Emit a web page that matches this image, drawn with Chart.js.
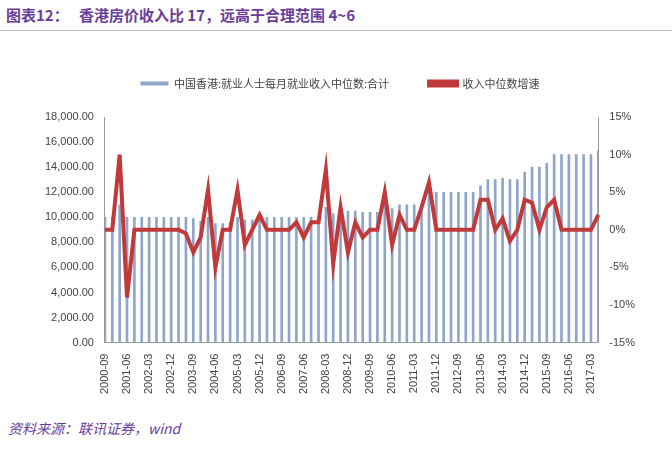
<!DOCTYPE html>
<html><head><meta charset="utf-8">
<script src="https://cdn.jsdelivr.net/npm/chart.js@4/dist/chart.umd.min.js"></script>
<style>
body{margin:0;background:#fff;width:672px;height:452px;overflow:hidden;font-family:"Noto Sans CJK SC",sans-serif;position:relative}
#t{position:absolute;left:6px;top:4px;font-size:15px;font-weight:bold;color:#6a3d9a;}
#ln{position:absolute;left:0;top:30px;width:672px;height:1px;background:#bbb}
#s{position:absolute;left:8px;top:418px;font-size:14px;font-style:italic;color:#6a3d9a}
#c{position:absolute;left:0;top:0}
</style></head><body>
<div id="t">图表12：&nbsp;&nbsp;&nbsp;香港房价收入比 17，远高于合理范围 4~6</div>
<div id="ln"></div>
<div id="s">资料来源：联讯证券，wind</div>
<canvas id="c" width="672" height="452"></canvas>
<script>
const categories=[];
(function(){let y=2000,m=9;for(let i=0;i<68;i++){categories.push(y+'-'+String(m).padStart(2,'0'));m+=3;if(m>12){m-=12;y++;}}})();
const incomeMedian=[10000,10000,11000,10000,10000,10000,10000,10000,10000,10000,10000,10000,9900,9700,10000,9500,9500,9600,10000,9800,9800,10000,10000,10000,10000,10000,10000,10000,10000,10000,10800,10300,10500,10500,10500,10400,10400,10400,11100,10700,11000,11000,11000,11000,12000,12000,12000,12000,12000,12000,12000,12500,13000,13000,13100,13000,13000,13600,14000,14000,14300,15000,15000,15000,15000,15000,15000,15300];
const growth=[0,0,10,-9,0,0,0,0,0,0,0,-0.5,-3,-1,5.3,-5,0,0,5.3,-2,0,2,0,0,0,0,1,-1,1,1,8,-4.5,3,-3,1,-1,0,0,5,-2,2,0,0,3,6.3,0,0,0,0,0,0,4,4,0,1.5,-1.5,0,4,3.6,0,3,4,0,0,0,0,0,2];
const leftTicks=[0,2000,4000,6000,8000,10000,12000,14000,16000,18000];
const legendGap={id:'legendGap',beforeInit(c){const f=c.legend.fit;c.legend.fit=function(){f.call(this);this.height+=18;};}};
new Chart(document.getElementById('c'),{
 data:{labels:categories,datasets:[
  {type:'bar',label:'中国香港:就业人士每月就业收入中位数:合计',data:incomeMedian,yAxisID:'y',backgroundColor:'#8fa6c9',barThickness:2,order:1},
  {type:'line',label:'收入中位数增速',data:growth,yAxisID:'y1',borderColor:'#c0393b',backgroundColor:'#c0393b',borderWidth:4,pointRadius:0,tension:0,order:0}
 ]},
 plugins:[legendGap],
 options:{responsive:false,animation:false,
  layout:{padding:{left:42,right:34,top:38,bottom:55}},
  plugins:{legend:{labels:{sort:(a,b)=>a.datasetIndex-b.datasetIndex,font:{size:11,family:'Noto Sans CJK SC'},color:'#444',boxWidth:28,boxHeight:4,padding:40}},tooltip:{enabled:false}},
  scales:{
   x:{offset:false,grid:{display:false},border:{color:'#999'},ticks:{autoSkip:false,maxRotation:90,minRotation:90,color:'#444',font:{size:11},callback:(v,i)=>i%3===0?categories[i]:''}},
   y:{min:0,max:18000,afterBuildTicks:a=>{a.ticks=leftTicks.map(v=>({value:v}))},grid:{display:false},border:{color:'#999'},ticks:{color:'#444',font:{size:11},callback:v=>v.toLocaleString('en-US',{minimumFractionDigits:2})}},
   y1:{position:'right',min:-15,max:15,grid:{display:false},border:{color:'#999'},ticks:{stepSize:5,color:'#444',font:{size:11},callback:v=>v+'%'}}
  }}
});
</script></body></html>
